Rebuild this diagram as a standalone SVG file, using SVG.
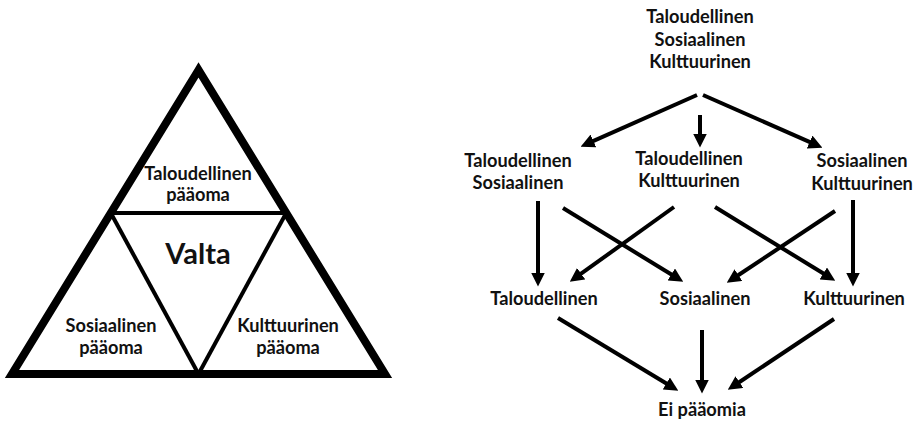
<svg xmlns="http://www.w3.org/2000/svg" width="921" height="431" viewBox="0 0 921 431">
<style>
  .t { font-family: Lato, "Open Sans", "Liberation Sans", sans-serif; font-weight: 700; font-size: 18.2px; fill: #111; text-anchor: middle; }
  .big { font-size: 29px; }
  .outer { fill: none; stroke: #000; stroke-width: 8; stroke-linejoin: miter; }
  .inner { fill: none; stroke: #000; stroke-width: 4; }
  .arr { stroke: #000; stroke-width: 4; fill: none; marker-end: url(#ah); }
</style>
<defs>
  <marker id="ah" markerUnits="userSpaceOnUse" markerWidth="14" markerHeight="14" viewBox="0 0 12 12" refX="3" refY="6" orient="auto">
    <path d="M0,0 L12,6 L0,12 z" fill="#000"/>
  </marker>
</defs>
<rect width="921" height="431" fill="#fff"/>
<g id="pyramid">
  <polygon class="outer" points="198.5,70 12,374 385,374"/>
  <line class="inner" x1="110.8" y1="213" x2="286.2" y2="213"/>
  <line class="inner" x1="110.8" y1="213" x2="198.5" y2="374"/>
  <line class="inner" x1="286.2" y1="213" x2="198.5" y2="374"/>
</g>
<g id="node-taloudellinen-paaoma">
  <text class="t" x="198" y="180">Taloudellinen</text>
  <text class="t" x="198" y="201">pääoma</text>
</g>
<g id="node-valta">
  <text class="t big" x="198" y="264">Valta</text>
</g>
<g id="node-sosiaalinen-paaoma">
  <text class="t" x="111" y="332">Sosiaalinen</text>
  <text class="t" x="111" y="354">pääoma</text>
</g>
<g id="node-kulttuurinen-paaoma">
  <text class="t" x="288" y="332">Kulttuurinen</text>
  <text class="t" x="288" y="354">pääoma</text>
</g>
<g id="node-tsk">
  <text class="t" x="700" y="23">Taloudellinen</text>
  <text class="t" x="700" y="46">Sosiaalinen</text>
  <text class="t" x="700" y="68">Kulttuurinen</text>
</g>
<g id="node-ts">
  <text class="t" x="518" y="167">Taloudellinen</text>
  <text class="t" x="518" y="189">Sosiaalinen</text>
</g>
<g id="node-tk">
  <text class="t" x="689" y="165">Taloudellinen</text>
  <text class="t" x="689" y="187">Kulttuurinen</text>
</g>
<g id="node-sk">
  <text class="t" x="862" y="167">Sosiaalinen</text>
  <text class="t" x="862" y="190">Kulttuurinen</text>
</g>
<g id="node-t">
  <text class="t" x="544" y="305">Taloudellinen</text>
</g>
<g id="node-s">
  <text class="t" x="705" y="305">Sosiaalinen</text>
</g>
<g id="node-k">
  <text class="t" x="854" y="305">Kulttuurinen</text>
</g>
<g id="node-ei">
  <text class="t" x="702" y="416">Ei pääomia</text>
</g>
<g id="connectors">
  <line class="arr" x1="697" y1="95" x2="590.2" y2="142.4"/>
  <line class="arr" x1="700" y1="115" x2="700" y2="137"/>
  <line class="arr" x1="703" y1="95" x2="812.8" y2="143.4"/>
  <line class="arr" x1="538" y1="201" x2="538" y2="276"/>
  <line class="arr" x1="563" y1="208" x2="674.3" y2="276.3"/>
  <line class="arr" x1="674" y1="207" x2="578.3" y2="275.7"/>
  <line class="arr" x1="715" y1="207" x2="826.3" y2="275.3"/>
  <line class="arr" x1="835" y1="211" x2="735.5" y2="277"/>
  <line class="arr" x1="853" y1="200" x2="853" y2="276"/>
  <line class="arr" x1="558" y1="318" x2="669.3" y2="385.3"/>
  <line class="arr" x1="702" y1="330" x2="702" y2="383"/>
  <line class="arr" x1="834" y1="319" x2="736.5" y2="384"/>
</g>
</svg>
